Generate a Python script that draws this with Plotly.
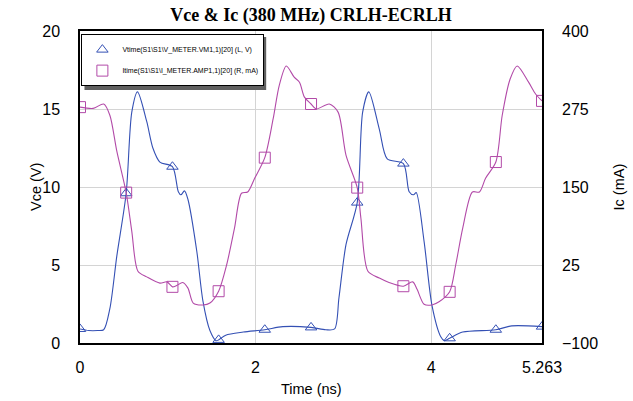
import numpy as np
import plotly.graph_objects as go

# ---- data ----
t_v = [0.0, 0.1, 0.2, 0.27, 0.34, 0.42, 0.526, 0.59, 0.655, 0.76, 0.83, 0.91, 1.053,
       1.12, 1.15, 1.19, 1.23, 1.33, 1.40, 1.48, 1.55, 1.579, 1.66, 1.86, 2.105, 2.31,
       2.632, 2.80, 2.90, 2.95, 3.03, 3.158, 3.22, 3.29, 3.41, 3.50, 3.684, 3.75, 3.80,
       3.83, 3.92, 4.01, 4.11, 4.15, 4.211, 4.36, 4.737, 4.92, 5.263]
vce = [0.9, 0.8, 0.8, 0.85, 2.2, 5.6, 9.6, 14.8, 16.1, 14.2, 12.5, 11.6, 11.3,
       9.7, 9.5, 9.75, 9.2, 5.9, 2.7, 0.8, 0.15, 0.2, 0.5, 0.7, 0.85, 1.05,
       1.0, 0.85, 0.9, 2.9, 6.3, 9.0, 14.8, 16.1, 13.7, 11.8, 11.5, 9.7, 9.5,
       9.65, 6.5, 2.4, 0.4, 0.15, 0.3, 0.7, 0.85, 1.1, 1.05]

t_i = [0.0, 0.15, 0.27, 0.34, 0.42, 0.526, 0.59, 0.66, 0.76, 0.91, 0.99, 1.053, 1.10,
       1.17, 1.23, 1.29, 1.40, 1.48, 1.579, 1.67, 1.76, 1.84, 1.91, 1.99, 2.105, 2.2,
       2.27, 2.35, 2.44, 2.5, 2.557, 2.632, 2.69, 2.84, 2.94, 3.03, 3.158, 3.2, 3.28,
       3.41, 3.52, 3.684, 3.79, 3.84, 3.92, 4.01, 4.09, 4.211, 4.28, 4.36, 4.47, 4.55,
       4.62, 4.737, 4.81, 4.90, 4.98, 5.11, 5.19, 5.263]
ic = [278, 276, 283, 265, 207, 141, 79, 15, 6, -4, -2, -10, -8,
      -3, -12, -36, -39, -36, -17, 25, 84, 140, 142, 164, 197, 259,
      313, 344, 326, 318, 294, 283, 275, 283, 270, 201, 149, 100, 15,
      4, -3, -9, -2, -14, -38, -39, -34, -18, 25, 84, 142, 142,
      164, 190, 265, 323, 344, 318, 299, 288]

marker_times = [0.0, 0.526, 1.053, 1.579, 2.105, 2.632, 3.158, 3.684, 4.211, 4.737, 5.263]

x_ticks = [0, 2, 4, 5.263]
x_ticktext = ["0", "2", "4", "5.263"]
y_ticks = [0, 5, 10, 15, 20]
y2_ticks = [-100, 25, 150, 275, 400]

name_v = "Vtime(S1\\S1\\V_METER.VM1,1)[20] (L, V)"
name_i = "Itime(S1\\S1\\I_METER.AMP1,1)[20] (R, mA)"

BLUE = "#3450B4"
MAG = "#B24AA8"

tv = np.array(t_v); vv = np.array(vce)
ti = np.array(t_i); ii = np.array(ic)
mv = np.array([np.any(np.isclose(x, marker_times)) for x in tv])
mi = np.array([np.any(np.isclose(x, marker_times)) for x in ti])

fig = go.Figure()
fig.add_trace(go.Scatter(x=tv, y=vv, mode="lines", line=dict(color=BLUE, width=1.1, shape="spline", smoothing=0.8),
                         showlegend=False, hoverinfo="skip"))
fig.add_trace(go.Scatter(x=tv[mv], y=vv[mv], mode="markers", name=name_v, legendgroup="a",
                         marker=dict(symbol="triangle-up-open", size=10, color=BLUE, line=dict(width=1))))
fig.add_trace(go.Scatter(x=ti, y=ii, mode="lines", yaxis="y2", line=dict(color=MAG, width=1.1, shape="spline", smoothing=0.8),
                         showlegend=False, hoverinfo="skip"))
fig.add_trace(go.Scatter(x=ti[mi], y=ii[mi], mode="markers", yaxis="y2", name=name_i, legendgroup="b",
                         marker=dict(symbol="square-open", size=11, color=MAG, line=dict(width=1))))

axfont = dict(family="Liberation Sans, Arial", size=16, color="black")
tfont = dict(family="Liberation Sans, Arial", size=14.5, color="black")
fig.update_layout(
    width=633, height=401,
    margin=dict(l=80, r=90.5, t=31, b=58, autoexpand=False),
    paper_bgcolor="white", plot_bgcolor="white",
    title=dict(text="<b>Vce & Ic (380 MHz) CRLH-ECRLH</b>", x=0.5, xref="paper", xanchor="center",
               y=1 - 14.5 / 401, yanchor="middle", yref="container", automargin=False,
               font=dict(family="Liberation Serif, Times New Roman", size=18, color="black")),
    xaxis=dict(range=[0, 5.263], tickvals=x_ticks, ticktext=x_ticktext, showgrid=True,
               gridcolor="#d4d4d4", gridwidth=1, zeroline=False, showline=True, linecolor="black",
               linewidth=1.5, mirror=True, ticks="", ticklabelstandoff=9, tickfont=axfont, automargin=False),
    yaxis=dict(range=[0, 20], tickvals=y_ticks, showgrid=True, gridcolor="#d4d4d4", gridwidth=1,
               zeroline=False, showline=True, linecolor="black", linewidth=1.5, mirror=True, ticks="",
               ticklabelstandoff=15, tickfont=axfont, automargin=False),
    yaxis2=dict(range=[-100, 400], tickvals=y2_ticks, overlaying="y", side="right", showgrid=False,
                zeroline=False, showline=False, ticks="", ticklabelstandoff=19, tickfont=axfont, automargin=False),
    legend=dict(x=0.003, y=0.99, xanchor="left", yanchor="top", bgcolor="white", bordercolor="black",
                borderwidth=1, font=dict(family="Liberation Sans, Arial", size=7, color="black"),
                tracegroupgap=2, traceorder="grouped", itemwidth=30),
    shapes=[dict(type="rect", xref="paper", yref="paper", x0=0.0097, x1=0.403, y0=0.811, y1=0.981,
                 fillcolor="#606060", line=dict(width=0), layer="above")],
    annotations=[
        dict(text="Vce (V)", xref="paper", yref="paper", x=0, y=0.5, xshift=-44, textangle=-90,
             showarrow=False, xanchor="center", yanchor="middle", font=tfont),
        dict(text="Ic (mA)", xref="paper", yref="paper", x=1, y=0.5, xshift=76.5, textangle=-90,
             showarrow=False, xanchor="center", yanchor="middle", font=tfont),
        dict(text="Time (ns)", xref="paper", yref="paper", x=0.5, y=0, yshift=-46,
             showarrow=False, xanchor="center", yanchor="middle", font=tfont),
    ],
)
fig.write_html("out.html", post_script="document.body.style.margin='0';",
               config={"displayModeBar": False})
